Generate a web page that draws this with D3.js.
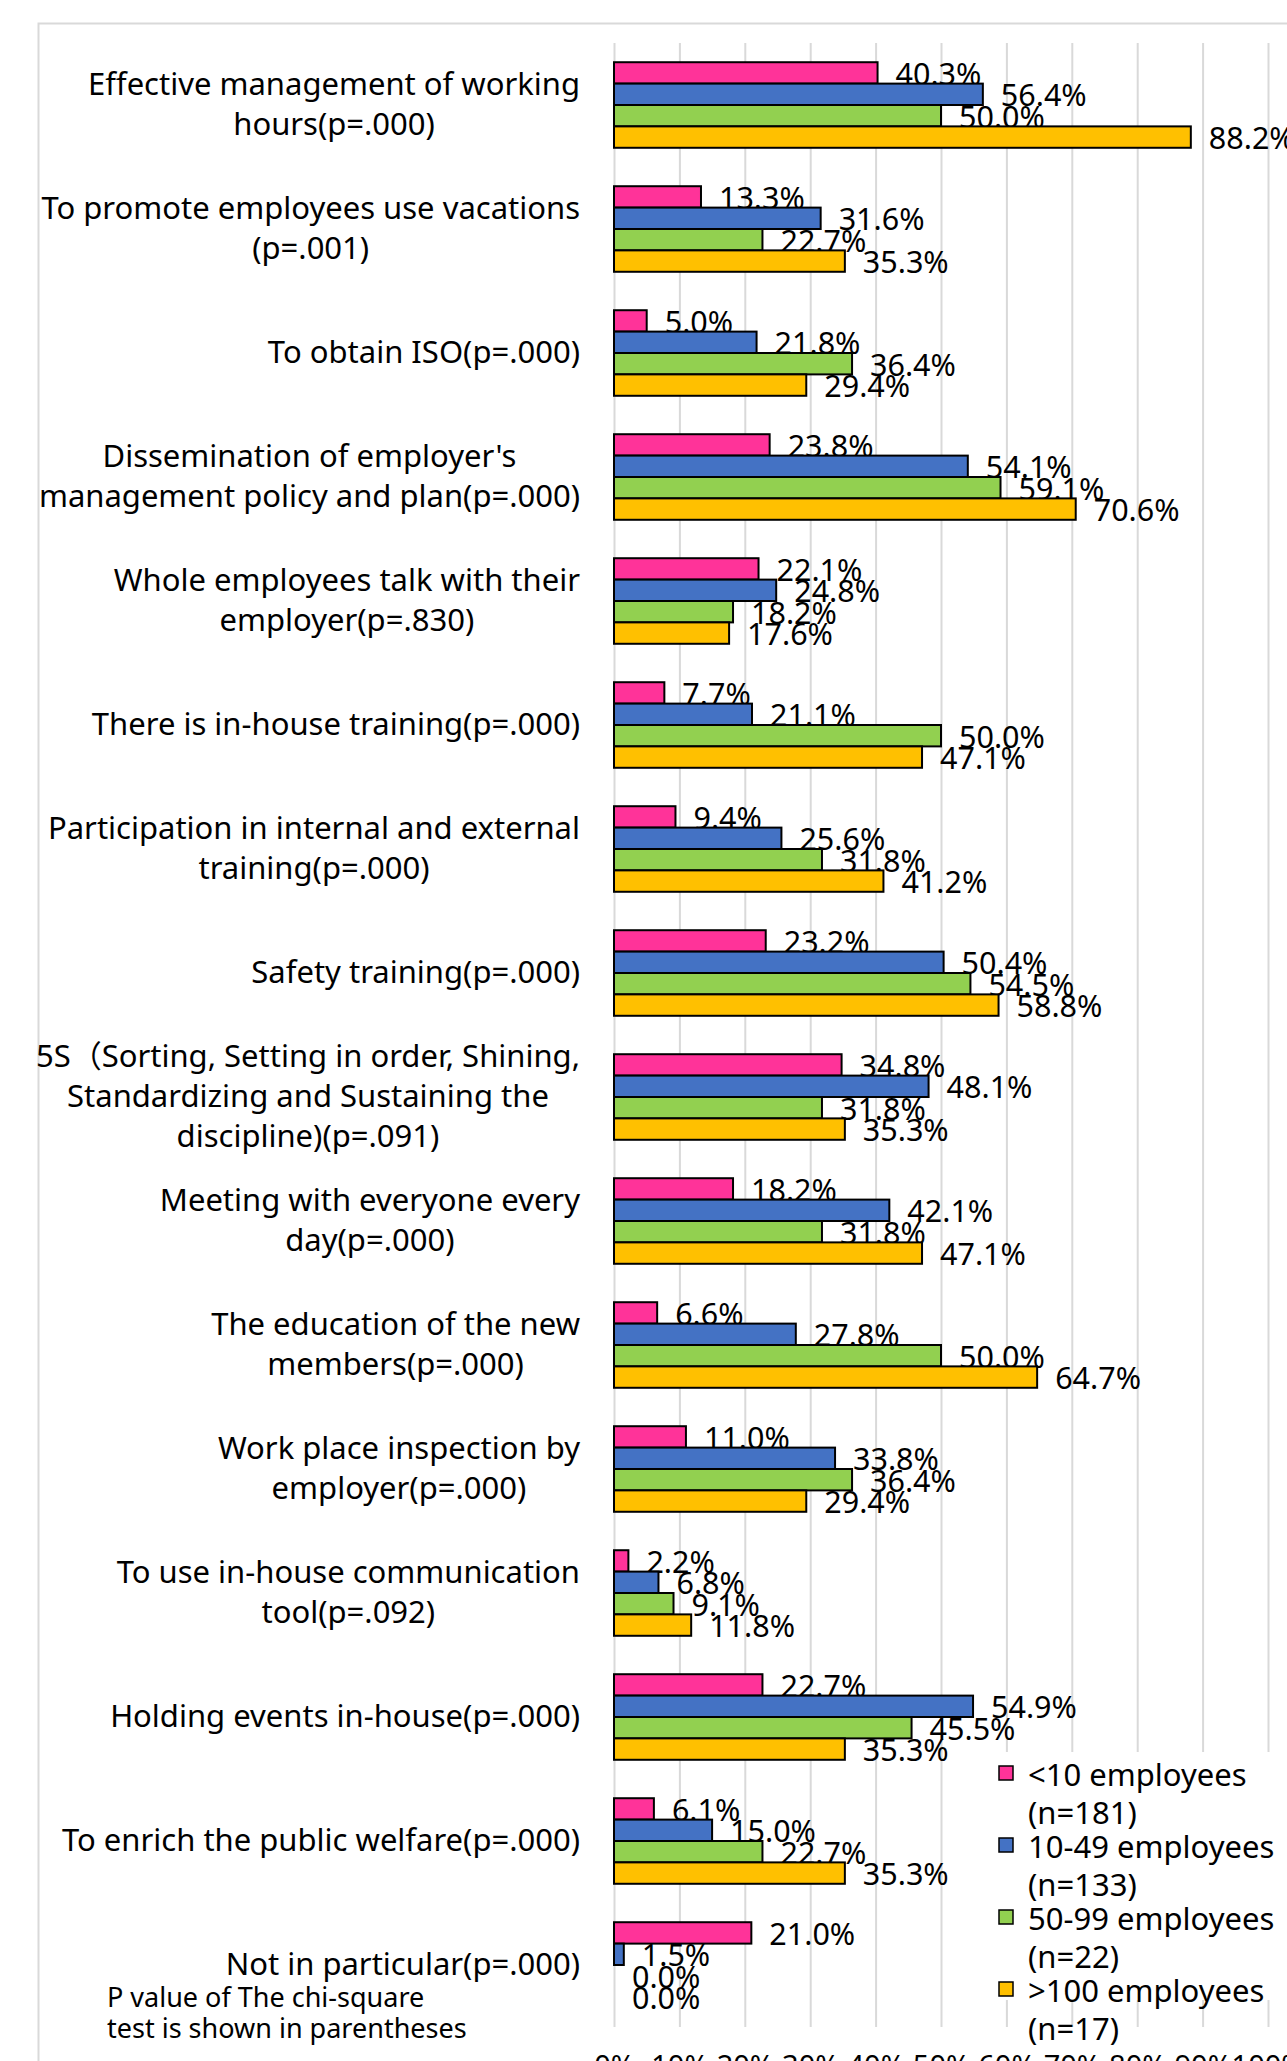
<!DOCTYPE html>
<html>
<head>
<meta charset="utf-8">
<script src="https://cdn.jsdelivr.net/npm/d3@7"></script>
<style>
  html, body { margin: 0; padding: 0; background: #fff; }
  svg { display: block; font-family: "Noto Sans", "Noto Sans CJK JP", sans-serif; }
</style>
</head>
<body>
<div id="chart"></div>
<script>
// categories, one label line per entry of the inner list
const categories = [
  ["Effective management of working", "hours(p=.000)"],
  ["To promote employees use vacations", "(p=.001)"],
  ["To obtain ISO(p=.000)"],
  ["Dissemination of employer's", "management policy and plan(p=.000)"],
  ["Whole employees talk with their", "employer(p=.830)"],
  ["There is in-house training(p=.000)"],
  ["Participation in internal and external", "training(p=.000)"],
  ["Safety training(p=.000)"],
  ["5S（Sorting, Setting in order, Shining,", "Standardizing and Sustaining the", "discipline)(p=.091)"],
  ["Meeting with everyone every", "day(p=.000)"],
  ["The education of the new", "members(p=.000)"],
  ["Work place inspection by", "employer(p=.000)"],
  ["To use in-house communication", "tool(p=.092)"],
  ["Holding events in-house(p=.000)"],
  ["To enrich the public welfare(p=.000)"],
  ["Not in particular(p=.000)"]
];

// series values (%)
const under10 = [40.3, 13.3, 5.0, 23.8, 22.1, 7.7, 9.4, 23.2, 34.8, 18.2, 6.6, 11.0, 2.2, 22.7, 6.1, 21.0];
const from10to49 = [56.4, 31.6, 21.8, 54.1, 24.8, 21.1, 25.6, 50.4, 48.1, 42.1, 27.8, 33.8, 6.8, 54.9, 15.0, 1.5];
const from50to99 = [50.0, 22.7, 36.4, 59.1, 18.2, 50.0, 31.8, 54.5, 31.8, 31.8, 50.0, 36.4, 9.1, 45.5, 22.7, 0.0];
const over100 = [88.2, 35.3, 29.4, 70.6, 17.6, 47.1, 41.2, 58.8, 35.3, 47.1, 64.7, 29.4, 11.8, 35.3, 35.3, 0.0];

const seriesNames = ["<10 employees", "10-49 employees", "50-99 employees", ">100 employees"];
const seriesCounts = ["(n=181)", "(n=133)", "(n=22)", "(n=17)"];
const seriesColors = ["#FF3399", "#4472C4", "#92D050", "#FFC000"];

const tickValues = [0, 10, 20, 30, 40, 50, 60, 70, 80, 90, 100];
const tickLabels = ["0%", "10%", "20%", "30%", "40%", "50%", "60%", "70%", "80%", "90%", "100%"];

const noteLines = ["P value of The chi-square", "test is shown in parentheses"];

const allSeries = [under10, from10to49, from50to99, over100];

let dimensions = {w: 1287, h: 2061};
let plot = {left: 614, right: 1268, top: 43, bottom: 2027};

var svg = d3.select("#chart").append("svg")
  .attr("width", dimensions.w)
  .attr("height", dimensions.h)
  .attr("xmlns", "http://www.w3.org/2000/svg");

svg.append("rect").attr("width", dimensions.w).attr("height", dimensions.h).attr("fill", "#fff");

// chart area border (runs off the right and bottom of the picture)
svg.append("rect")
  .attr("x", 38.5).attr("y", 23.5)
  .attr("width", 1400).attr("height", 2200)
  .attr("fill", "none")
  .attr("stroke", "#d9d9d9")
  .attr("stroke-width", 2);

var x = d3.scaleLinear().domain([0, 100]).range([plot.left, plot.right]);

var y = d3.scaleBand()
  .domain(d3.range(categories.length))
  .range([plot.top, plot.bottom])
  .paddingInner(0.31)
  .paddingOuter(0.155);

var ySub = d3.scaleBand()
  .domain(d3.range(allSeries.length))
  .range([0, y.bandwidth()]);

// gridlines + tick labels
var xAxis = svg.append("g")
  .attr("transform", "translate(0," + plot.bottom + ")")
  .call(d3.axisBottom(x)
    .tickValues(tickValues)
    .tickSize(-(plot.bottom - plot.top))
    .tickPadding(28)
    .tickFormat(function(d, i) { return tickLabels[i]; }));
xAxis.select(".domain").remove();
xAxis.selectAll(".tick line").attr("stroke", "#d9d9d9").attr("stroke-width", 2);
xAxis.selectAll(".tick text")
  .attr("fill", "#000")
  .style("font-family", "'Noto Sans', sans-serif")
  .style("font-size", "29px");

// bars, then their labels, series by series (later bars cover earlier labels)
var labelSize = 30.5;
allSeries.forEach(function(vals, s) {
  var g = svg.append("g").attr("class", "series-" + s);
  g.selectAll("rect")
    .data(vals)
    .enter().append("rect")
      .attr("x", x(0))
      .attr("y", function(d, i) { return y(i) + ySub(s); })
      .attr("width", function(d) { return x(d) - x(0); })
      .attr("height", ySub.bandwidth())
      .attr("fill", seriesColors[s])
      .attr("stroke", "#000")
      .attr("stroke-width", 2);
  g.selectAll("text")
    .data(vals)
    .enter().append("text")
      .attr("x", function(d) { return x(d) + 18; })
      .attr("y", function(d, i) { return y(i) + ySub(s) + ySub.bandwidth() / 2 + 12; })
      .style("font-size", labelSize + "px")
      .attr("fill", "#000")
      .text(function(d) { return d.toFixed(1) + "%"; });
});

// category labels: block right-aligned to the plot, lines centred inside the block
var labelRight = 580, lineH = 40;
categories.forEach(function(lines, i) {
  var cy = y(i) + y.bandwidth() / 2;
  var t = svg.append("text")
    .style("font-size", "31px")
    .attr("fill", "#000")
    .attr("text-anchor", "middle");
  var spans = lines.map(function(line, k) {
    return t.append("tspan")
      .attr("y", cy + (k - (lines.length - 1) / 2) * lineH + 10)
      .text(line);
  });
  var maxW = d3.max(spans, function(sp) { return sp.node().getComputedTextLength(); });
  spans.forEach(function(sp) { sp.attr("x", labelRight - maxW / 2); });
});

// note under the last category
svg.append("g").selectAll("text")
  .data(noteLines)
  .enter().append("text")
    .attr("x", 107)
    .attr("y", function(d, i) { return 2007 + i * 31; })
    .style("font-size", "27px")
    .attr("fill", "#000")
    .text(function(d) { return d; });

// legend
var legend = svg.append("g").attr("class", "legend");
legend.append("rect")
  .attr("x", 990).attr("y", 1752)
  .attr("width", 300).attr("height", 248)
  .attr("fill", "#fff");
seriesNames.forEach(function(name, s) {
  var base = 1786 + s * 72;
  legend.append("rect")
    .attr("x", 999).attr("y", base - 20)
    .attr("width", 14).attr("height", 14)
    .attr("fill", seriesColors[s])
    .attr("stroke", "#000")
    .attr("stroke-width", 1.5);
  legend.append("text")
    .attr("x", 1028).attr("y", base)
    .style("font-size", "31px")
    .text(name);
  legend.append("text")
    .attr("x", 1028).attr("y", base + 38)
    .style("font-size", "31px")
    .text(seriesCounts[s]);
});
</script>
</body>
</html>
